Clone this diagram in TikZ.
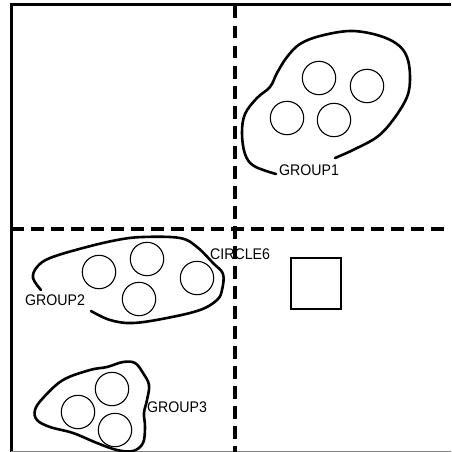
\documentclass[tikz,border=0pt]{standalone}
\usepackage{fontspec}
\setmainfont[FakeStretch=0.92]{Liberation Sans}
\begin{document}
\begin{tikzpicture}[x=1pt,y=-1pt,
  ring/.style={draw,circle,minimum size=33.4pt,inner sep=0pt,line width=1.1pt},
  blob/.style={line width=2.6pt,line cap=round,line join=round},
  divider/.style={line width=3.6pt,dash pattern=on 12.5pt off 7.5pt},
  lbl/.style={anchor=base west,inner sep=0pt,font=\fontsize{15.4}{16}\selectfont}]
\useasboundingbox (0,0) rectangle (451,452);
% frame
\draw[line width=2.6pt] (10,4.3) -- (451,4.3);
\draw[line width=2.8pt] (11.5,3) -- (11.5,452);
\draw[gray,line width=1pt] (11,451) -- (451,451);
% dividers
\draw[divider] (11,229) -- (451,229);
\draw[divider] (235,6) -- (235,452);
% group 1 circles
\node[ring] (c1) at (319,78) {};
\node[ring] (c2) at (367,86) {};
\node[ring] (c3) at (287,118) {};
\node[ring] (c4) at (334,120) {};
% group 2 circles
\node[ring] (c5) at (99,272) {};
\node[ring] (c7) at (147,259) {};
\node[ring] (c8) at (139,299) {};
\node[ring] (c6) at (197,278) {};
% group 3 circles
\node[ring] (c9) at (112,389) {};
\node[ring] (c10) at (78,412) {};
\node[ring] (c11) at (115,430) {};
% square
\node[draw,line width=1.1pt,minimum width=50pt,minimum height=51pt,inner sep=0pt] (sq) at (316,283.5) {};
% blobs
\draw[blob] plot[smooth,tension=0.6] coordinates {(276,174) (254,166) (245,154) (242,133) (245,114) (257,98) (270,87) (277,73) (287,57) (300,44) (320,36) (350,31) (377,35) (397,44) (407,57) (410,77) (407,97) (393,120) (377,137) (353,150) (335,158)};
\draw[blob] plot[smooth,tension=0.6] coordinates {(41,290) (33,278) (37,267) (50,258) (83,248) (117,240) (143,237) (180,238) (197,247) (213,263) (223,274) (222,290) (217,300) (200,310) (167,318) (133,323) (110,320) (91,311)};
\draw[blob] plot[smooth cycle,tension=0.6] coordinates {(35,410) (43,398) (63,380) (90,370) (107,367) (123,362) (135,363) (143,373) (149,385) (147,400) (144,413) (145,427) (143,443) (133,451) (117,450) (97,443) (73,433) (50,427) (37,420)};
% labels
\node[lbl] (g1) at (279,175) {GROUP1};
\node[lbl] (g2) at (25,305) {GROUP2};
\node[lbl] (g3) at (147,412) {GROUP3};
\node[lbl] (l6) at (210,259) {CIRCLE6};
\end{tikzpicture}
\end{document}
